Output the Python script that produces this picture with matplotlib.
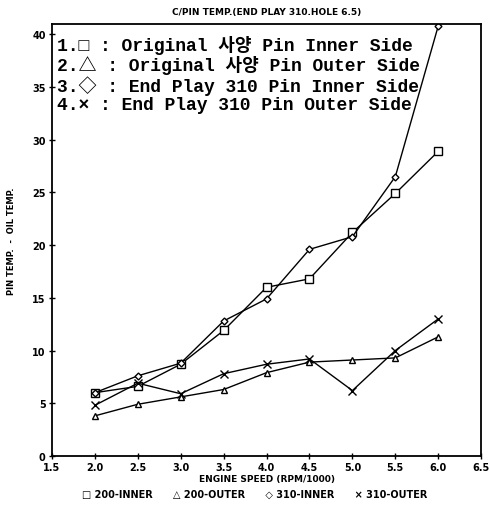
import matplotlib
matplotlib.use('agg')
import matplotlib.pyplot as plt
import numpy as np

# engine speed (rpm/1000) and pin temp - oil temp
rpm = [2.0, 2.5, 3.0, 3.5, 4.0, 4.5, 5.0, 5.5, 6.0]
inner_200 = [6.0, 6.6, 8.7, 11.9, 16.0, 16.8, 21.2, 24.9, 28.9]
outer_200 = [3.8, 4.9, 5.6, 6.3, 7.9, 8.9, 9.1, 9.3, 11.3]
inner_310 = [6.0, 7.6, 8.8, 12.8, 14.9, 19.6, 20.8, 26.5, 40.8]
outer_310 = [4.8, 6.9, 5.9, 7.8, 8.7, 9.2, 6.2, 10.0, 13.0]

xticks = [1.5, 2.0, 2.5, 3.0, 3.5, 4.0, 4.5, 5.0, 5.5, 6.0, 6.5]
yticks = [0, 5, 10, 15, 20, 25, 30, 35, 40]

legend_lines = ['1.□ : Original 사양 Pin Inner Side',
                '2.△ : Original 사양 Pin Outer Side',
                '3.◇ : End Play 310 Pin Inner Side',
                '4.× : End Play 310 Pin Outer Side']

fig = plt.figure(figsize=(4.9, 5.06), dpi=100)
ax = fig.add_axes([0.106, 0.097, 0.876, 0.854])

kw = dict(color='k', lw=1.0, markerfacecolor='white', markeredgecolor='k', markeredgewidth=1.0)
ax.plot(rpm, inner_200, marker='s', ms=6, **kw)
ax.plot(rpm, outer_200, marker='^', ms=5, **kw)
ax.plot(rpm, inner_310, marker='D', ms=3.5, **kw)
ax.plot(rpm, outer_310, marker='x', ms=6, **kw)

ax.set_xlim(1.5, 6.5)
ax.set_ylim(0, 41)
ax.set_xticks(xticks)
ax.set_xticklabels([f'{v:.1f}' for v in xticks])
ax.set_yticks(yticks)
ax.tick_params(direction='inout', length=5, width=1, labelsize=7, pad=2)
for lab in ax.get_xticklabels() + ax.get_yticklabels():
    lab.set_fontweight('bold')
for sp in ax.spines.values():
    sp.set_linewidth(1.3)

ax.set_title('C/PIN TEMP.(END PLAY 310.HOLE 6.5)', fontsize=6.5, fontweight='bold', pad=7)
ax.set_xlabel('ENGINE SPEED (RPM/1000)', fontsize=6.5, fontweight='bold', labelpad=1)
ax.set_ylabel('PIN TEMP.  -  OIL TEMP.', fontsize=6, fontweight='bold', labelpad=12)

# big in-plot legend block
for i, line in enumerate(legend_lines):
    ax.text(0.012, 0.975 - i * 0.047, line, transform=ax.transAxes, fontsize=13,
            family=['Liberation Mono', 'Noto Sans CJK KR', 'DejaVu Sans'],
            fontweight='bold', va='top', ha='left')

fig.text(0.52, 0.012, '□ 200-INNER      △ 200-OUTER      ◇ 310-INNER      × 310-OUTER',
         ha='center', va='bottom', fontsize=7, fontweight='bold')

fig.savefig('out.png', dpi=100)
